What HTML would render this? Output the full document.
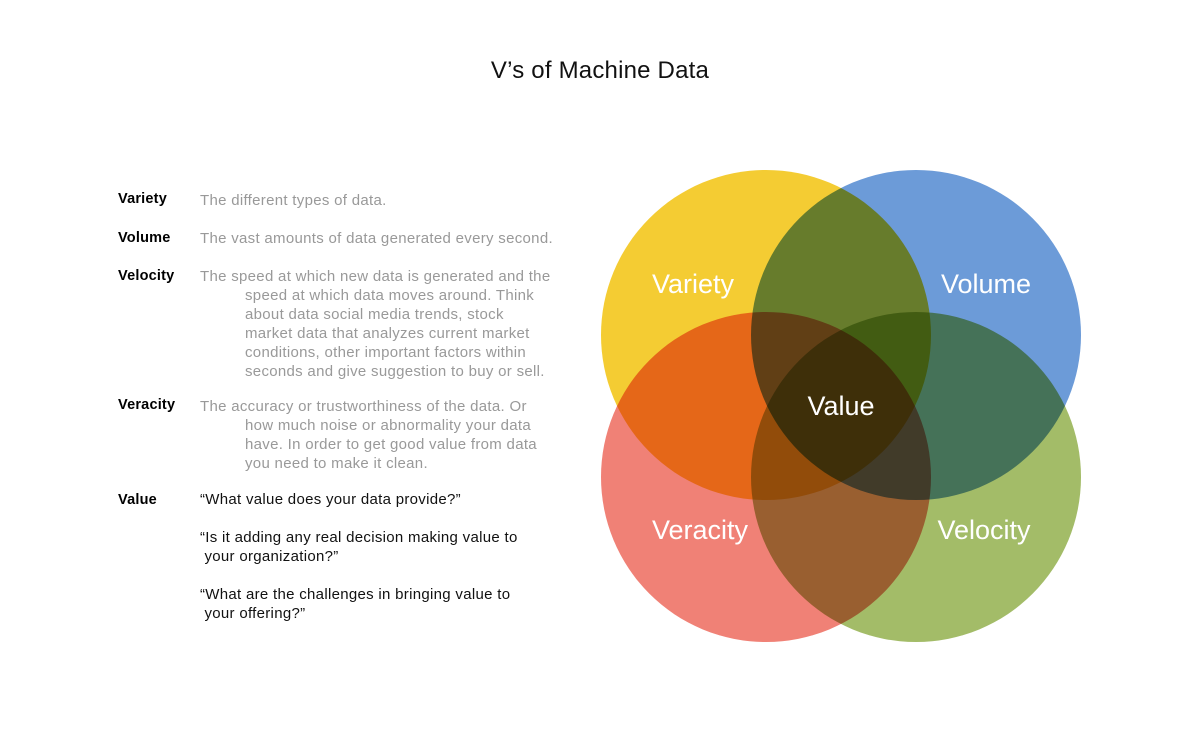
<!DOCTYPE html>
<html><head><meta charset="utf-8"><style>
body{margin:0;width:1200px;height:750px;background:#fff;font-family:"Liberation Sans",sans-serif;position:relative;overflow:hidden}
.t{position:absolute;left:0;width:1200px;top:57px;text-align:center;font-size:24px;color:#111;letter-spacing:0.2px}
.lab{position:absolute;left:118px;font-size:14.5px;font-weight:bold;color:#000;letter-spacing:0.2px}
.d{position:absolute;left:200px;font-size:15px;color:#999;line-height:19px;width:400px;letter-spacing:0.3px}
.d .i{padding-left:45px}
.q{color:#111}
svg{position:absolute;left:0;top:0}
</style></head><body>
<div class="t">V’s of Machine Data</div>
<div class="lab" style="top:191px">Variety</div>
<div class="d" style="top:191px">The different types of data.</div>
<div class="lab" style="top:230px">Volume</div>
<div class="d" style="top:229px">The vast amounts of data generated every second.</div>
<div class="lab" style="top:268px">Velocity</div>
<div class="d" style="top:267px">The speed at which new data is generated and the<div class="i">speed at which data moves around. Think<br>about data social media trends, stock<br>market data that analyzes current market<br>conditions, other important factors within<br>seconds and give suggestion to buy or sell.</div></div>
<div class="lab" style="top:397px">Veracity</div>
<div class="d" style="top:397px">The accuracy or trustworthiness of the data. Or<div class="i">how much noise or abnormality your data<br>have. In order to get good value from data<br>you need to make it clean.</div></div>
<div class="lab" style="top:492px">Value</div>
<div class="d q" style="top:490px">“What value does your data provide?”<br><br>“Is it adding any real decision making value to<br>&nbsp;your organization?”<br><br>“What are the challenges in bringing value to<br>&nbsp;your offering?”</div>
<svg width="1200" height="750">
<g style="isolation:isolate">
<circle cx="766" cy="335" r="165" fill="#F4CC33" style="mix-blend-mode:multiply"/>
<circle cx="916" cy="335" r="165" fill="#6C9BD8" style="mix-blend-mode:multiply"/>
<circle cx="766" cy="477" r="165" fill="#F08176" style="mix-blend-mode:multiply"/>
<circle cx="916" cy="477" r="165" fill="#A3BC68" style="mix-blend-mode:multiply"/>
</g>
<g fill="#fff" font-family="Liberation Sans,sans-serif" font-size="27" text-anchor="middle">
<text x="693" y="293">Variety</text>
<text x="986" y="293">Volume</text>
<text x="841" y="415">Value</text>
<text x="700" y="539">Veracity</text>
<text x="984" y="539">Velocity</text>
</g>
</svg>
</body></html>
